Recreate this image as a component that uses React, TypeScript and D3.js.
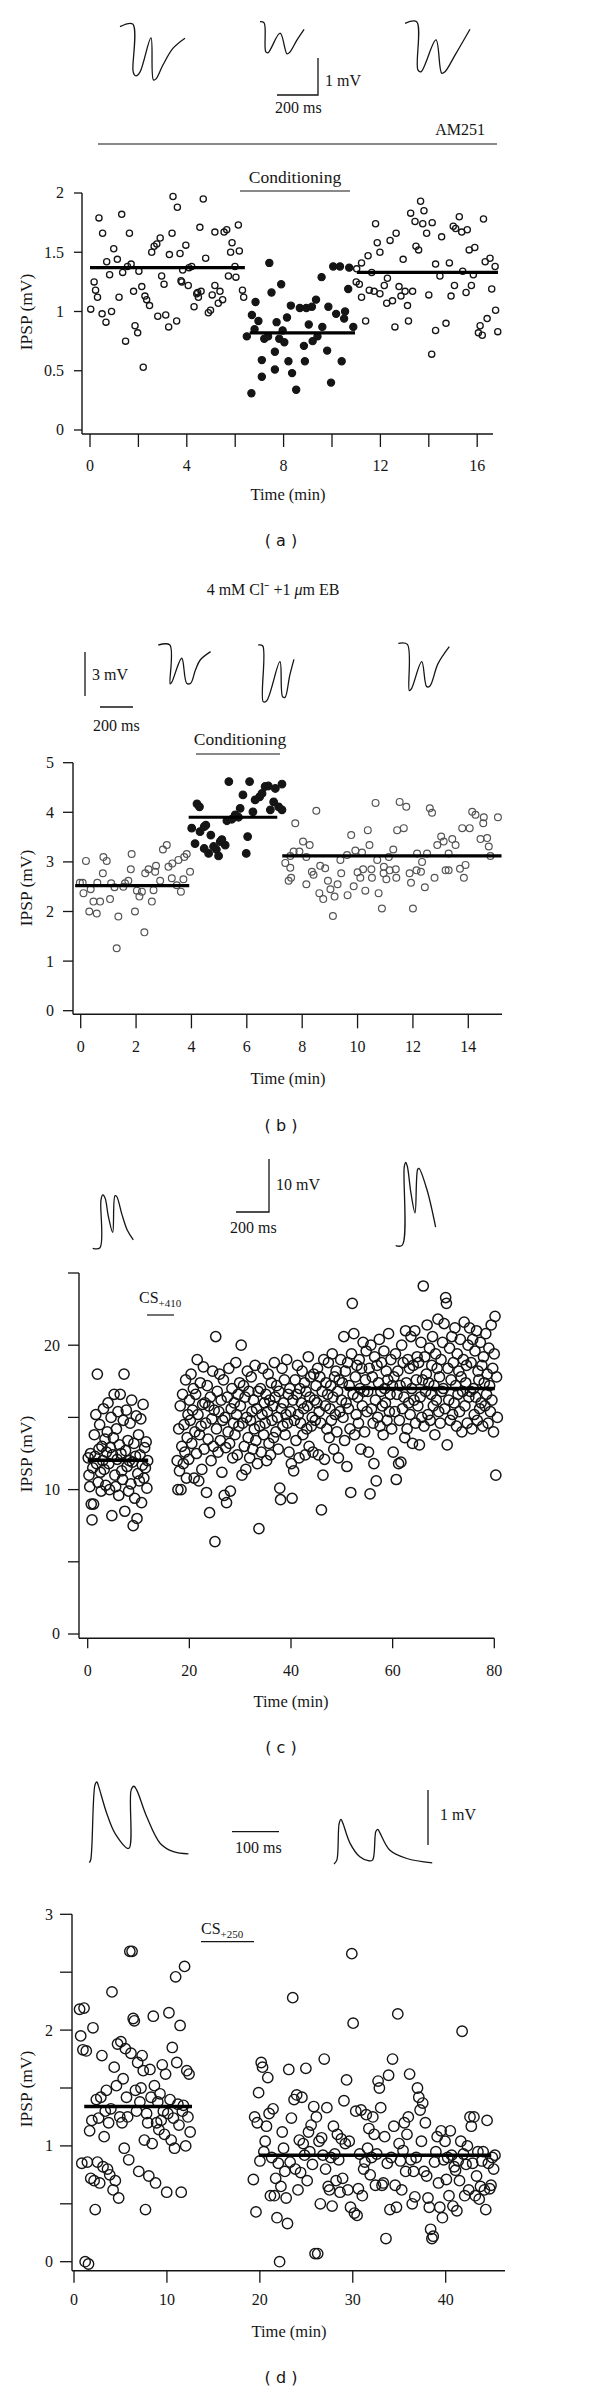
import React from "react";
import * as d3 from "d3";

type Pt = [number, number];
type Seg = [number, number, number];

const SERIF = "'Liberation Serif','Times New Roman',serif";
const SANS = "'DejaVu Sans','Liberation Sans',sans-serif";
const INK = "#151515";

// ---------------- Panel (a) ----------------
const aTimeTicks = [0, 2, 4, 6, 8, 10, 12, 14, 16];
const aTimeLabels = [0, 4, 8, 12, 16];
const aIpspTicks = [0, 0.5, 1, 1.5, 2];
const aBaseline: Pt[] = [
  [0.37,1.79],[0.52,1.66],[1.31,1.82],[1.63,1.66],[0.98,1.53],[0.69,1.42],[1.13,1.44],[0.81,1.31],[0.17,1.25],[1.35,1.33],
  [1.55,1.38],[1.70,1.40],[2.02,1.34],[0.23,1.18],[1.80,1.17],[1.20,1.12],[2.14,1.21],[2.55,1.50],[2.65,1.55],[2.76,1.57],
  [2.90,1.62],[3.39,1.66],[3.43,1.97],[3.61,1.88],[4.68,1.95],[4.54,1.71],[3.96,1.56],[3.72,1.49],[3.28,1.48],[2.96,1.30],
  [3.06,1.23],[3.83,1.35],[4.09,1.37],[4.20,1.38],[3.76,1.26],[4.06,1.22],[4.78,1.45],[5.16,1.67],[5.54,1.67],[5.65,1.69],
  [6.13,1.73],[5.87,1.58],[5.81,1.50],[6.17,1.51],[5.99,1.38],[5.72,1.30],[6.03,1.29],[5.16,1.22],[5.37,1.17],[4.45,1.16],
  [4.59,1.17],[5.05,1.14],[6.30,1.18],[6.35,1.12],[0.03,1.02],[0.31,1.12],[0.50,0.98],[0.66,0.91],[0.89,1.00],[1.47,0.75],
  [1.86,0.88],[1.97,0.82],[2.27,1.13],[2.34,1.10],[2.46,1.05],[2.20,0.53],[2.80,0.96],[3.13,0.97],[3.25,0.87],[3.58,0.92],
  [3.79,1.25],[4.30,1.04],[4.41,1.15],[4.48,1.12],[4.89,0.99],[4.98,1.01],[5.30,1.07],[5.48,1.10]
];
const aConditioning: Pt[] = [
  [7.41,1.41],[7.90,1.23],[7.50,1.16],[9.57,1.29],[10.05,1.38],[10.33,1.38],[10.71,1.37],[10.67,1.19],[6.84,1.08],[6.69,0.97],
  [6.48,0.79],[6.96,0.92],[6.80,0.85],[7.20,0.77],[7.36,0.79],[7.71,0.91],[7.96,0.84],[7.82,0.77],[8.03,0.74],[8.30,1.05],
  [8.14,0.95],[7.64,0.66],[7.10,0.59],[8.20,0.58],[7.64,0.51],[7.10,0.45],[8.35,0.48],[6.67,0.31],[8.52,0.34],[8.67,1.03],
  [8.84,0.71],[9.04,0.89],[8.94,1.03],[9.17,1.04],[9.34,1.10],[9.20,0.75],[8.88,0.58],[9.40,0.79],[9.60,0.87],[9.80,0.67],
  [9.96,0.40],[9.85,1.04],[10.17,0.98],[10.40,0.58],[10.54,1.00],[10.50,0.94],[10.88,0.87]
];
const aPost: Pt[] = [
  [11.02,1.36],[11.22,1.41],[11.49,1.47],[11.80,1.74],[11.87,1.58],[11.98,1.50],[11.64,1.33],[11.00,1.25],[11.13,1.23],[12.29,1.28],
  [12.16,1.22],[11.54,1.18],[11.74,1.17],[11.98,1.15],[12.40,1.60],[12.65,1.66],[12.94,1.44],[13.25,1.83],[13.43,1.76],[13.66,1.93],
  [13.80,1.85],[13.75,1.74],[13.91,1.66],[14.14,1.75],[13.47,1.55],[13.58,1.52],[14.53,1.63],[15.01,1.72],[15.26,1.80],[15.11,1.70],
  [15.36,1.67],[15.59,1.69],[16.26,1.78],[15.67,1.52],[15.90,1.54],[14.28,1.40],[14.85,1.41],[14.46,1.30],[15.40,1.34],[15.84,1.31],
  [16.33,1.42],[16.53,1.45],[16.74,1.38],[15.06,1.22],[15.76,1.22],[16.60,1.19],[12.77,1.21],[13.02,1.17],[13.33,1.17],[14.00,1.14],
  [11.22,1.12],[11.39,0.92],[12.26,1.07],[12.50,1.09],[12.60,0.87],[12.85,1.13],[13.12,1.05],[13.16,0.92],[14.12,0.64],[14.28,0.84],
  [14.71,0.90],[14.92,1.13],[15.54,1.16],[16.05,0.82],[16.12,0.88],[16.21,0.80],[16.41,0.94],[16.76,1.01],[16.85,0.83]
];
const aMeans: Seg[] = [[0, 6.4, 1.37], [6.6, 10.95, 0.82], [11.03, 16.86, 1.33]];
const aTrace1: Pt[] = [[0,0],[62,0.07],[63,-1.17],[68,-1.28],[78,-1.33],[98,-1.22],[151,-0.3],[163,-1.44],[176,-1.41],[210,-1.03],[259,-0.58],[317,-0.31]];
const aTrace2: Pt[] = [[0,0],[20,-0.03],[28,-0.81],[39,-0.84],[98,-0.31],[132,-0.87],[146,-0.82],[180,-0.5],[215,-0.21]];
const aTrace3: Pt[] = [[0,0],[57,0.04],[63,-1.26],[78,-1.31],[151,-0.45],[179,-1.35],[195,-1.31],[244,-0.86],[317,-0.16]];

// ---------------- Panel (b) ----------------
const bTimeTicks = [0, 2, 4, 6, 8, 10, 12, 14];
const bIpspTicks = [0, 1, 2, 3, 4, 5];
const bBaseline: Pt[] = [
  [0.19,3.02],[0.82,3.10],[0.94,3.02],[0.80,2.77],[1.84,3.16],[1.81,2.85],[2.33,2.77],[2.45,2.85],[2.72,2.92],[2.69,2.80],
  [2.97,3.25],[3.11,3.34],[3.17,2.90],[3.31,2.97],[3.53,3.04],[3.74,3.10],[3.83,3.16],[3.95,2.80],[-0.03,2.58],[0.07,2.58],
  [0.10,2.37],[0.31,2.00],[0.36,2.45],[0.46,2.20],[0.58,1.96],[0.60,2.58],[0.70,2.20],[1.06,2.25],[1.10,2.57],[1.22,2.49],
  [1.30,1.26],[1.36,1.90],[1.54,2.50],[1.60,2.57],[1.72,2.62],[1.96,2.00],[2.03,2.42],[2.12,2.30],[2.21,2.40],[2.30,1.58],
  [2.57,2.20],[2.63,2.43],[2.87,2.62],[3.29,2.67],[3.47,2.53],[3.62,2.40],[3.71,2.65]
];
const bConditioning: Pt[] = [
  [4.20,4.17],[4.29,4.11],[4.01,3.68],[4.31,3.61],[4.13,3.37],[4.46,3.71],[4.46,3.27],[4.62,3.17],[4.70,3.54],[4.80,3.31],
  [4.98,3.12],[5.04,3.41],[5.22,3.34],[5.35,4.62],[5.28,3.83],[5.46,3.86],[5.58,3.95],[5.70,3.90],[5.76,4.08],[5.86,4.35],
  [5.98,3.17],[6.03,3.51],[6.10,4.62],[6.22,4.01],[6.30,4.25],[6.46,4.31],[6.55,4.38],[6.66,4.52],[6.78,4.53],[6.85,4.05],
  [6.97,4.21],[7.03,4.48],[7.15,4.11],[7.27,4.57],[7.27,4.05],[4.52,3.74],[4.90,3.25],[5.10,3.45]
];
const bPost: Pt[] = [
  [7.39,2.98],[7.57,3.12],[7.75,3.78],[7.69,3.21],[7.90,3.21],[8.03,3.41],[8.27,3.34],[8.51,4.03],[8.15,3.10],[8.65,2.92],
  [8.83,2.87],[9.38,3.04],[9.62,3.14],[9.77,3.54],[9.92,3.23],[10.16,3.19],[10.37,3.64],[10.43,3.34],[10.65,4.19],[10.71,3.04],
  [11.13,3.10],[11.29,3.25],[11.43,3.64],[11.52,4.21],[11.67,3.68],[11.76,4.11],[12.15,3.17],[12.33,3.00],[12.51,3.17],[12.61,4.08],
  [12.69,3.99],[12.88,3.34],[13.02,3.51],[13.11,3.41],[13.29,3.17],[13.42,3.46],[13.54,3.34],[13.78,3.68],[13.90,2.94],[14.05,3.68],
  [14.14,4.01],[14.26,3.95],[14.44,3.46],[14.54,3.78],[14.56,3.90],[14.68,3.48],[14.74,3.31],[14.80,3.12],[15.07,3.90],[7.51,2.62],
  [7.60,2.68],[8.15,2.55],[8.35,2.80],[8.41,2.74],[8.62,2.37],[8.76,2.25],[8.93,2.62],[9.02,2.45],[9.11,1.91],[9.17,2.30],
  [9.28,2.55],[9.41,2.77],[9.64,2.33],[9.86,2.51],[10.00,2.79],[10.10,2.68],[10.28,2.42],[10.52,2.68],[10.76,2.37],[10.88,2.06],
  [10.94,2.77],[11.04,2.65],[11.16,2.83],[11.40,2.68],[11.88,2.77],[11.93,2.58],[12.00,2.06],[12.13,2.83],[12.29,2.80],[12.43,2.49],
  [12.78,2.68],[13.18,2.83],[13.29,2.83],[13.84,2.68],[7.57,2.88],[10.20,2.85],[10.50,2.85],[10.95,2.90],[11.38,2.85],[13.70,2.86]
];
const bMeans: Seg[] = [[-0.2, 3.92, 2.52], [3.9, 7.1, 3.9], [7.28, 15.2, 3.12]];
const bTrace1: Pt[] = [[0,0],[70,0],[72,-2.65],[83,-2.5],[142,-0.9],[172,-2.6],[196,-2.6],[225,-1.7],[254,-1.02],[317,-0.45]];
const bTrace2: Pt[] = [[0,0],[27,-0.07],[30,-3.86],[51,-3.79],[131,-1.13],[147,-3.51],[162,-3.56],[190,-2.1],[216,-0.98]];
const bTrace3: Pt[] = [[0,0],[55,-0.07],[67,-3.22],[81,-3.06],[142,-1.25],[172,-2.95],[192,-2.9],[240,-1.4],[309,-0.23]];

// ---------------- Panel (c) ----------------
const cTimeTicks = [0, 20, 40, 60, 80];
const cIpspTicks = [0, 5, 10, 15, 20, 25];
const cIpspLabels = [0, 10, 20];
const C_BASE_START = 0.1, C_BASE_END = 11.8;
const C_POST_START = 17.6, C_POST_END = 80.6;
const cBaseIpsp = [
  12.2,11.0,10.2,12.5,9.0,7.9,11.5,9.0,13.8,12.3,15.2,11.8,18.0,10.5,12.8,14.5,11.2,9.9,13.0,12.0,
  15.6,11.4,13.5,10.3,12.6,14.0,16.0,11.8,10.0,12.9,15.0,8.2,12.4,13.6,16.6,11.0,10.2,14.2,12.1,15.4,
  9.6,13.1,16.6,12.5,11.3,10.7,14.8,18.0,8.5,12.7,15.5,11.6,13.4,9.9,12.0,14.6,10.4,16.2,11.9,7.5,
  13.2,9.4,12.3,15.1,8.0,11.1,13.8,10.6,12.4,14.9,9.1,11.7,15.9,10.8,12.9,11.5,13.3,10.1,12.0
];
const cPostIpsp = [
  12.0,10.0,14.2,11.3,15.8,10.0,13.0,16.6,11.8,14.5,12.6,17.6,10.8,13.6,15.2,12.1,
  16.2,14.8,18.0,13.2,15.5,17.0,10.8,14.0,16.6,12.5,19.0,15.2,10.6,13.8,17.4,14.4,11.4,15.9,18.5,12.8,16.0,14.6,9.8,17.2,13.5,15.8,8.4,16.4,12.0,14.9,18.2,13.0,15.5,
  6.4,20.6,14.2,16.8,12.6,15.4,18.0,13.4,16.2,11.2,14.8,17.6,9.6,15.0,12.9,9.1,16.4,14.0,18.4,13.2,9.9,15.6,17.0,12.2,14.6,16.0,13.8,18.8,15.2,12.4,16.6,14.4,17.4,
  15.8,20.0,11.0,14.6,17.2,13.0,16.4,11.4,15.0,18.2,13.6,16.8,12.2,14.8,17.8,15.4,12.8,16.2,14.2,18.6,13.4,15.6,11.8,16.8,7.3,14.4,17.0,12.6,15.2,18.4,13.8,16.0,14.6,
  16.6,12.0,15.4,18.0,13.2,16.2,12.4,17.4,14.8,15.8,13.6,18.8,16.4,14.0,17.2,15.0,12.8,16.8,10.1,9.3,15.6,18.4,14.4,16.0,17.6,13.8,15.2,19.0,14.6,16.6,12.6,17.0,15.4,
  11.8,9.4,16.2,11.3,14.8,17.6,13.4,16.6,18.6,15.2,12.2,17.0,14.6,16.0,18.2,13.8,15.6,17.4,12.4,16.8,14.2,15.8,19.2,13.0,16.4,17.8,14.4,15.0,12.6,18.0,16.2,14.8,17.2,
  16.0,18.4,12.4,15.4,17.8,14.6,8.6,16.8,11.0,19.0,12.1,15.8,17.4,14.2,16.6,18.8,13.6,15.6,17.2,14.8,19.4,16.4,12.8,17.8,15.2,18.2,14.0,16.8,12.2,17.6,15.4,19.0,16.2,
  17.4,15.0,20.6,13.4,18.2,16.0,11.6,18.8,15.6,17.2,14.2,9.8,19.4,22.9,16.6,20.8,13.8,17.8,15.2,18.6,16.4,14.6,19.0,17.0,12.8,18.4,15.8,20.2,16.8,14.0,17.6,19.6,15.4,
  16.8,12.6,18.4,9.7,20.0,15.6,17.8,14.6,11.8,19.2,16.2,10.6,18.6,15.0,17.4,20.4,14.4,16.8,18.8,15.8,13.8,19.6,17.0,16.0,18.2,14.8,17.6,20.8,15.4,16.6,19.0,14.2,17.2,
  12.6,17.8,15.4,19.4,10.7,16.6,18.2,11.8,14.8,17.2,11.9,20.0,15.6,18.8,16.4,13.6,21.0,17.4,14.2,19.0,16.0,18.4,15.2,20.6,17.0,13.2,18.6,16.2,21.0,14.6,17.6,19.2,15.8,
  18.8,13.1,16.4,20.2,15.0,17.6,24.1,14.4,19.2,16.8,18.0,21.4,15.2,17.4,19.8,14.8,16.6,18.6,20.6,15.8,17.2,13.8,19.4,16.2,18.4,21.8,15.4,17.8,14.6,19.0,16.8,20.2,17.0,
  21.5,15.6,23.3,22.9,13.1,18.4,16.2,19.8,14.8,17.6,20.6,15.2,18.8,16.0,21.2,17.2,14.4,19.4,16.6,18.2,15.4,20.4,17.8,14.0,16.8,19.0,21.6,15.8,17.4,18.6,14.6,20.0,16.4,
  21.2,16.8,18.8,14.2,20.4,17.0,15.2,19.6,16.4,21.0,14.8,18.2,17.6,15.6,20.2,16.0,18.6,14.4,19.2,17.4,15.8,20.8,16.6,18.0,14.6,19.8,17.2,15.4,21.4,16.2,18.4,14.0,19.4,22.0,11.0,17.8,15.0
];
const cMeans: Seg[] = [[0, 11.9, 12.04], [50.6, 80.1, 17.0]];
const cTrace1: Pt[] = [[0,0],[44,0.1],[50,9.1],[61,10.1],[75,9.5],[95,6.0],[121,3.0],[135,9.9],[145,9.8],[178,6.3],[210,3.4],[246,1.6]];
const cTrace2: Pt[] = [[0,0],[40,0.1],[52,14.9],[61,15.7],[71,14.9],[92,10.0],[117,6.2],[133,14.4],[141,14.6],[190,10.5],[242,3.5]];

// ---------------- Panel (d) ----------------
const dTimeTicks = [0, 10, 20, 30, 40];
const dIpspTicks = [0, 0.5, 1, 1.5, 2, 2.5, 3];
const dIpspLabels = [0, 1, 2, 3];
const D_BASE_START = 0.6, D_BASE_END = 12.5;
const D_POST_START = 19.3, D_POST_END = 45.3;
const dBaseIpsp = [
  2.18,1.95,0.85,1.83,2.19,0.0,1.82,0.86,-0.02,1.13,0.72,1.22,2.02,0.70,0.45,1.40,0.86,1.24,0.68,1.42,
  1.78,0.82,1.08,1.30,1.48,0.80,1.20,0.75,1.32,2.33,0.62,1.68,0.70,1.52,1.88,0.55,1.25,1.90,1.20,1.58,
  0.98,1.84,1.42,1.25,0.88,2.68,1.80,2.68,2.10,2.08,1.48,1.30,1.72,0.78,1.38,1.50,1.78,1.65,1.05,0.45,
  1.28,1.20,0.74,1.66,1.42,1.02,2.12,1.52,0.68,1.20,1.38,1.14,1.45,1.22,1.70,1.30,1.10,1.62,0.60,1.28,
  2.15,1.40,1.05,1.85,1.24,0.98,2.46,1.72,1.36,1.18,2.04,0.60,1.30,1.35,2.55,1.00,1.65,1.25,1.62,1.12
];
const dPostIpsp = [
  0.71,1.25,0.43,1.20,1.46,0.87,1.72,1.68,0.95,1.04,1.17,1.59,1.28,0.57,0.90,1.32,0.57,0.72,0.38,0.85,0.0,0.65,1.12,0.98,0.78,
  0.55,0.33,1.66,0.86,1.24,2.28,1.40,0.80,1.44,0.62,1.05,0.77,1.42,1.02,0.92,1.67,0.70,1.12,0.95,1.18,0.84,
  1.34,0.07,1.25,0.07,1.04,0.50,1.07,0.92,1.75,0.80,1.33,0.65,0.62,0.90,0.48,1.17,0.93,0.70,1.10,0.88,0.60,
  1.06,0.72,1.39,1.02,1.57,0.62,1.04,0.47,2.66,2.06,0.42,1.30,0.40,0.63,0.93,1.31,0.57,0.80,0.86,1.27,0.98,1.15,0.75,
  0.90,1.25,1.10,0.66,0.93,1.56,1.50,1.33,0.66,0.68,1.08,0.20,0.85,1.61,0.45,0.90,1.75,1.17,0.66,0.47,2.14,1.02,0.87,0.62,0.96,1.20,0.78,
  1.10,1.25,1.62,0.88,0.50,0.78,0.56,0.90,1.50,1.42,1.31,1.04,1.37,0.78,1.20,0.74,0.55,0.47,0.28,0.20,0.22,0.86,0.95,1.08,0.68,
  0.47,1.13,0.38,0.88,1.04,0.71,0.90,0.57,1.13,0.92,0.48,0.82,0.79,0.44,0.87,0.70,1.04,1.99,0.93,0.57,0.84,1.00,0.62,
  1.25,1.17,0.85,1.25,0.57,0.74,0.95,0.54,0.65,0.87,0.95,0.62,0.45,1.22,0.85,0.63,0.66,0.90,0.80,0.92
];
const dMeans: Seg[] = [[1.1, 12.7, 1.34], [19.9, 44.9, 0.92]];
const dTrace1: Pt[] = [[0,0],[3,0.05],[12,1.41],[16,1.47],[19,1.41],[37,0.9],[55,0.53],[84,0.26],[89,1.32],[95,1.39],[101,1.32],[122,0.84],[151,0.35],[179,0.2],[211,0.16]];
const dTrace2: Pt[] = [[0,0],[6,0.07],[11,0.74],[15,0.81],[19,0.74],[34,0.38],[55,0.13],[73,0.06],[82,0.07],[89,0.59],[93,0.63],[98,0.56],[119,0.25],[155,0.1],[209,0.02]];

// ---------------- helpers ----------------
type Lin = d3.ScaleLinear<number, number>;

const sampled = (vals: number[], t0: number, t1: number): Pt[] =>
  vals.map((v, i) => [t0 + (i * (t1 - t0)) / (vals.length - 1), v]);

function Axes(p: {
  x: Lin; y: Lin; axisX: number; axisY: number; xEnd: number; yTop: number;
  xTicks: number[]; xLabels: number[]; yTicks: number[]; yLabels: number[];
  yTickLen: number; xTickLen: number; yGap: number; xLabelY: number;
}) {
  return (
    <g>
      <line x1={p.axisX} x2={p.axisX} y1={p.yTop} y2={p.axisY} stroke={INK} strokeWidth={1.4} />
      <line x1={p.axisX} x2={p.xEnd} y1={p.axisY} y2={p.axisY} stroke={INK} strokeWidth={1.4} />
      {p.yTicks.map((v) => (
        <line key={"yt" + v} x1={p.axisX - p.yTickLen} x2={p.axisX} y1={p.y(v)} y2={p.y(v)} stroke={INK} strokeWidth={1.3} />
      ))}
      {p.yLabels.map((v) => (
        <text key={"yl" + v} x={p.axisX - p.yTickLen - p.yGap} y={p.y(v)} dy="0.34em" textAnchor="end" fontSize={16} fill={INK}>
          {String(v)}
        </text>
      ))}
      {p.xTicks.map((v) => (
        <line key={"xt" + v} x1={p.x(v)} x2={p.x(v)} y1={p.axisY} y2={p.axisY + p.xTickLen} stroke={INK} strokeWidth={1.3} />
      ))}
      {p.xLabels.map((v) => (
        <text key={"xl" + v} x={p.x(v)} y={p.xLabelY} textAnchor="middle" fontSize={16} fill={INK}>
          {String(v)}
        </text>
      ))}
    </g>
  );
}

function Dots(p: { data: Pt[]; x: Lin; y: Lin; r: number; filled?: boolean; stroke?: string; sw?: number }) {
  const c = p.stroke || INK;
  return (
    <g>
      {p.data.map(([t, v], i) => (
        <circle key={i} cx={p.x(t)} cy={p.y(v)} r={p.r} fill={p.filled ? c : "none"} stroke={c} strokeWidth={p.sw ?? 1.2} />
      ))}
    </g>
  );
}

function Means(p: { segs: Seg[]; x: Lin; y: Lin; w: number }) {
  return (
    <g>
      {p.segs.map(([t0, t1, v], i) => (
        <line key={i} x1={p.x(t0)} x2={p.x(t1)} y1={p.y(v)} y2={p.y(v)} stroke="#000" strokeWidth={p.w} />
      ))}
    </g>
  );
}

function traceScales(x0: number, y0: number, pxPerMs: number, pxPerMV: number) {
  const sx = d3.scaleLinear().domain([0, 100]).range([x0, x0 + 100 * pxPerMs]);
  const sy = d3.scaleLinear().domain([0, 1]).range([y0, y0 - pxPerMV]);
  return { sx, sy };
}

function Trace(p: { pts: Pt[]; x0: number; y0: number; pxPerMs: number; pxPerMV: number }) {
  const { sx, sy } = traceScales(p.x0, p.y0, p.pxPerMs, p.pxPerMV);
  const line = d3.line<Pt>().x((d) => sx(d[0])).y((d) => sy(d[1])).curve(d3.curveCatmullRom.alpha(0.5));
  return <path d={line(p.pts) || ""} fill="none" stroke={INK} strokeWidth={1.3} />;
}

function YLabel({ cy }: { cy: number }) {
  return (
    <text transform={`translate(32,${cy}) rotate(-90)`} textAnchor="middle" fontSize={17.5} fill={INK}>
      IPSP (mV)
    </text>
  );
}

function PanelTag({ label, y }: { label: string; y: number }) {
  return (
    <text x={281} y={y} textAnchor="middle" fontFamily={SANS} fontSize={16} fill={INK}>
      {`( ${label} )`}
    </text>
  );
}

function XTitle({ x, y }: { x: number; y: number }) {
  return (
    <text x={x} y={y} textAnchor="middle" fontSize={16.5} fill={INK}>
      Time (min)
    </text>
  );
}

// ---------------- App ----------------
export default function App() {
  const ax = d3.scaleLinear().domain([0, 16]).range([90, 477.2]);
  const ay = d3.scaleLinear().domain([0, 2]).range([430, 193]);
  const bx = d3.scaleLinear().domain([0, 14]).range([80.7, 468.3]);
  const by = d3.scaleLinear().domain([0, 5]).range([1010.7, 762.7]);
  const cx = d3.scaleLinear().domain([0, 80]).range([87.7, 494.3]);
  const cy = d3.scaleLinear().domain([0, 25]).range([1634, 1273]);
  const dx = d3.scaleLinear().domain([0, 40]).range([74, 445.7]);
  const dy = d3.scaleLinear().domain([0, 3]).range([2261.7, 1914.3]);

  const cBase = sampled(cBaseIpsp, C_BASE_START, C_BASE_END);
  const cPost = sampled(cPostIpsp, C_POST_START, C_POST_END);
  const dBase = sampled(dBaseIpsp, D_BASE_START, D_BASE_END);
  const dPost = sampled(dPostIpsp, D_POST_START, D_POST_END);

  const A_MS = 0.205, A_MV = 37;
  const B_MS = 0.165, B_MV = 14.7;
  const C_MS = 0.165, C_MV = 5.3;
  const D_MS = 0.47, D_MV = 55;

  return (
    <svg
      width={600}
      height={2392}
      viewBox="0 0 600 2392"
      style={{ position: "absolute", left: 0, top: 0, background: "#fff", display: "block" }}
      fontFamily={SERIF}
    >
      <rect x={0} y={0} width={600} height={2392} fill="#fff" />

      {/* ================= (a) ================= */}
      <Trace pts={aTrace1} x0={120} y0={26.7} pxPerMs={A_MS} pxPerMV={A_MV} />
      <Trace pts={aTrace2} x0={260} y0={21.7} pxPerMs={A_MS} pxPerMV={A_MV} />
      <Trace pts={aTrace3} x0={405} y0={23.3} pxPerMs={A_MS} pxPerMV={A_MV} />
      <path d={`M${318 - 200 * A_MS},95 H318 V${95 - 1 * A_MV}`} fill="none" stroke={INK} strokeWidth={1.3} />
      <text x={325} y={86} fontSize={16} fill={INK}>1 mV</text>
      <text x={275} y={113} fontSize={16} fill={INK}>200 ms</text>
      <text x={485} y={135} textAnchor="end" fontSize={16} fill={INK}>AM251</text>
      <line x1={98} x2={497} y1={144} y2={144} stroke={INK} strokeWidth={1.2} />
      <text x={295} y={183} textAnchor="middle" fontSize={17.5} fill={INK}>Conditioning</text>
      <line x1={240} x2={350} y1={191} y2={191} stroke={INK} strokeWidth={1.2} />
      <Axes x={ax} y={ay} axisX={82} axisY={434} xEnd={493} yTop={193}
        xTicks={aTimeTicks} xLabels={aTimeLabels} yTicks={aIpspTicks} yLabels={aIpspTicks}
        yTickLen={8} xTickLen={13} yGap={10} xLabelY={471} />
      <Dots data={aBaseline} x={ax} y={ay} r={3.1} sw={1.3} />
      <Dots data={aPost} x={ax} y={ay} r={3.1} sw={1.3} />
      <Dots data={aConditioning} x={ax} y={ay} r={3.6} filled />
      <Means segs={aMeans} x={ax} y={ay} w={3.2} />
      <YLabel cy={312} />
      <XTitle x={288} y={500} />
      <PanelTag label="a" y={546} />

      {/* ================= (b) ================= */}
      <text x={273} y={595} textAnchor="middle" fontSize={16} fill={INK}>
        4 mM Cl⁻ +1 <tspan fontStyle="italic">μ</tspan>m EB
      </text>
      <Trace pts={bTrace1} x0={158.3} y0={645} pxPerMs={B_MS} pxPerMV={B_MV} />
      <Trace pts={bTrace2} x0={258.3} y0={645} pxPerMs={B_MS} pxPerMV={B_MV} />
      <Trace pts={bTrace3} x0={398.3} y0={643.3} pxPerMs={B_MS} pxPerMV={B_MV} />
      <line x1={85} x2={85} y1={696 - 3 * B_MV} y2={696} stroke={INK} strokeWidth={1.3} />
      <text x={92} y={680} fontSize={16} fill={INK}>3 mV</text>
      <line x1={100} x2={100 + 200 * B_MS} y1={707} y2={707} stroke={INK} strokeWidth={1.3} />
      <text x={93} y={731} fontSize={16} fill={INK}>200 ms</text>
      <text x={240} y={745} textAnchor="middle" fontSize={17.5} fill={INK}>Conditioning</text>
      <line x1={196} x2={280} y1={754} y2={754} stroke={INK} strokeWidth={1.2} />
      <Axes x={bx} y={by} axisX={73} axisY={1014.3} xEnd={502} yTop={762.7}
        xTicks={bTimeTicks} xLabels={bTimeTicks} yTicks={bIpspTicks} yLabels={bIpspTicks}
        yTickLen={10} xTickLen={14} yGap={9} xLabelY={1052} />
      <Dots data={bBaseline} x={bx} y={by} r={3.4} stroke="#555" sw={1.2} />
      <Dots data={bPost} x={bx} y={by} r={3.4} stroke="#555" sw={1.2} />
      <Dots data={bConditioning} x={bx} y={by} r={3.8} filled />
      <Means segs={bMeans} x={bx} y={by} w={3.2} />
      <YLabel cy={888} />
      <XTitle x={288} y={1084} />
      <PanelTag label="b" y={1131} />

      {/* ================= (c) ================= */}
      <Trace pts={cTrace1} x0={92.7} y0={1248.3} pxPerMs={C_MS} pxPerMV={C_MV} />
      <Trace pts={cTrace2} x0={395.7} y0={1245.7} pxPerMs={C_MS} pxPerMV={C_MV} />
      <path d={`M${269 - 200 * C_MS},1212 H269 V${1212 - 10 * C_MV}`} fill="none" stroke={INK} strokeWidth={1.3} />
      <text x={276} y={1190} fontSize={16} fill={INK}>10 mV</text>
      <text x={230} y={1233} fontSize={16} fill={INK}>200 ms</text>
      <text x={139} y={1303} fontSize={16} fill={INK}>
        CS<tspan fontSize={11} dy={4}>+410</tspan>
      </text>
      <line x1={147} x2={174} y1={1315} y2={1315} stroke={INK} strokeWidth={1.2} />
      <Axes x={cx} y={cy} axisX={79} axisY={1638.3} xEnd={494.3} yTop={1273}
        xTicks={cTimeTicks} xLabels={cTimeTicks} yTicks={cIpspTicks} yLabels={cIpspLabels}
        yTickLen={11} xTickLen={10} yGap={8} xLabelY={1676} />
      <Dots data={cBase} x={cx} y={cy} r={5.1} sw={1.5} />
      <Dots data={cPost} x={cx} y={cy} r={5.1} sw={1.5} />
      <Means segs={cMeans} x={cx} y={cy} w={3.5} />
      <YLabel cy={1454} />
      <XTitle x={291} y={1707} />
      <PanelTag label="c" y={1753} />

      {/* ================= (d) ================= */}
      <Trace pts={dTrace1} x0={89.3} y0={1862.7} pxPerMs={D_MS} pxPerMV={D_MV} />
      <Trace pts={dTrace2} x0={334} y0={1864} pxPerMs={D_MS} pxPerMV={D_MV} />
      <line x1={232} x2={232 + 100 * D_MS} y1={1831.7} y2={1831.7} stroke={INK} strokeWidth={1.3} />
      <text x={235} y={1852.5} fontSize={16} fill={INK}>100 ms</text>
      <line x1={428} x2={428} y1={1845 - 1 * D_MV} y2={1845} stroke={INK} strokeWidth={1.3} />
      <text x={440} y={1820} fontSize={16} fill={INK}>1 mV</text>
      <text x={201} y={1934} fontSize={16} fill={INK}>
        CS<tspan fontSize={11} dy={4}>+250</tspan>
      </text>
      <line x1={201} x2={254} y1={1941.7} y2={1941.7} stroke={INK} strokeWidth={1.2} />
      <Axes x={dx} y={dy} axisX={72} axisY={2270.7} xEnd={505} yTop={1914.3}
        xTicks={dTimeTicks} xLabels={dTimeTicks} yTicks={dIpspTicks} yLabels={dIpspLabels}
        yTickLen={12} xTickLen={12} yGap={7} xLabelY={2305} />
      <Dots data={dBase} x={dx} y={dy} r={5.2} sw={1.4} />
      <Dots data={dPost} x={dx} y={dy} r={5.2} sw={1.4} />
      <Means segs={dMeans} x={dx} y={dy} w={3.5} />
      <YLabel cy={2089} />
      <XTitle x={289} y={2337} />
      <PanelTag label="d" y={2383} />
    </svg>
  );
}
